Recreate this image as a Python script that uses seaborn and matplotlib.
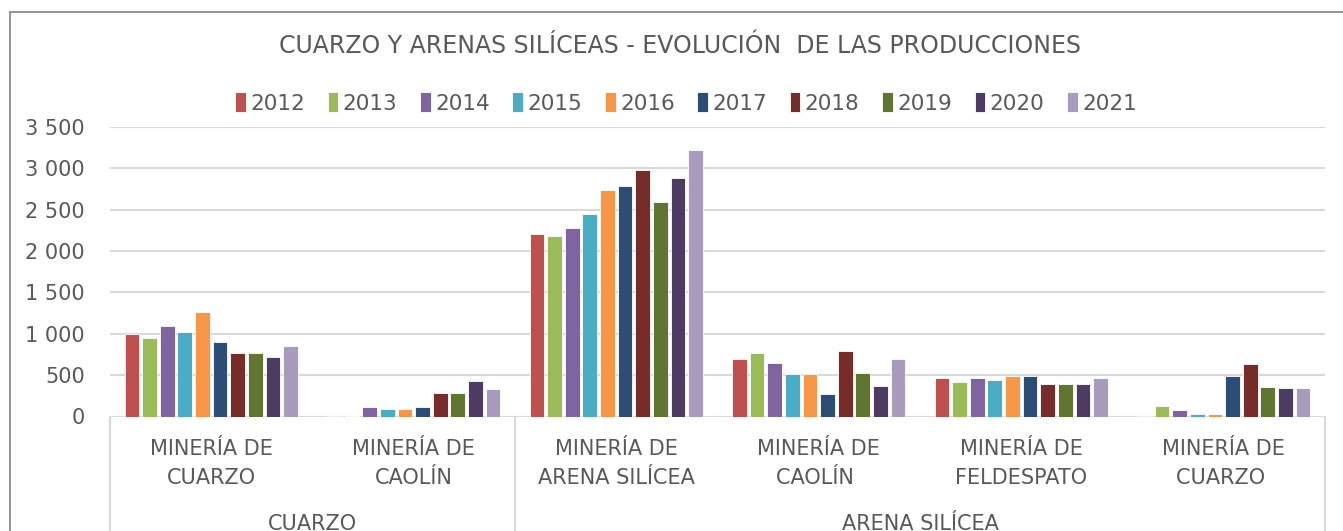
import pandas as pd
import numpy as np
import seaborn as sns
import matplotlib.pyplot as plt
from matplotlib.ticker import FuncFormatter
from matplotlib.patches import Rectangle
from matplotlib.lines import Line2D

# data
years = ['2012', '2013', '2014', '2015', '2016', '2017', '2018', '2019', '2020', '2021']
categories = ['MINERÍA DE\nCUARZO', 'MINERÍA DE\nCAOLÍN', 'MINERÍA DE\nARENA SILÍCEA',
              'MINERÍA DE\nCAOLÍN ', 'MINERÍA DE\nFELDESPATO', 'MINERÍA DE\nCUARZO ']
groups = ['CUARZO', 'ARENA SILÍCEA']
group_span = [(0, 1), (2, 5)]

cuarzo_cuarzo = [1000, 950, 1095, 1022, 1265, 905, 765, 765, 718, 858]
cuarzo_caolin = [5, 3, 112, 87, 87, 112, 281, 281, 427, 330]
arena_arena = [2212, 2188, 2284, 2450, 2740, 2788, 2982, 2595, 2885, 3220]
arena_caolin = [696, 768, 648, 509, 509, 269, 792, 528, 365, 696]
arena_feldespato = [461, 413, 461, 437, 485, 485, 389, 389, 389, 461]
arena_cuarzo = [8, 124, 76, 28, 28, 485, 629, 360, 340, 340]

colors = ['#C0504D', '#9BBB59', '#8064A2', '#4BACC6', '#F79646',
          '#2C4D75', '#772C2A', '#5F7530', '#4D3B62', '#A99BBD']

series = [cuarzo_cuarzo, cuarzo_caolin, arena_arena, arena_caolin, arena_feldespato, arena_cuarzo]
rows = []
for cat, vals in zip(categories, series):
    for yr, v in zip(years, vals):
        rows.append({'cat': cat, 'year': yr, 'value': v})
df = pd.DataFrame(rows)

sns.set_theme(style='white')
plt.rcParams['font.family'] = ['DejaVu Sans']
txt = '#595959'
grid_c = '#D9D9D9'

fig = plt.figure(figsize=(13.43, 5.31), dpi=100)
ax = fig.add_axes([110 / 1343, 1 - 416.5 / 531, (1325 - 110) / 1343, (416.5 - 127) / 531])

sns.barplot(data=df, x='cat', y='value', hue='year', hue_order=years, order=categories,
            palette=colors, saturation=1, width=0.87, gap=0.16, edgecolor='white',
            linewidth=0.6, errorbar=None, ax=ax, zorder=3)

ax.set_ylim(0, 3500)
ax.set_xlim(-0.5, len(categories) - 0.5)
ax.set_yticks(range(0, 3501, 500))
ax.yaxis.set_major_formatter(FuncFormatter(lambda v, p: f'{int(v):,}'.replace(',', ' ')))
ax.grid(axis='y', color=grid_c, lw=1.5, zorder=0)
ax.grid(axis='x', visible=False)
for s in ax.spines.values():
    s.set_visible(False)
ax.tick_params(axis='both', length=0, labelsize=15, colors=txt, pad=0)
ax.tick_params(axis='y', pad=18)
ax.tick_params(axis='x', pad=16)
ax.set_xticks(range(len(categories)))
ax.set_xticklabels(categories, linespacing=1.6)
ax.set_xlabel('')
ax.set_ylabel('')

# group labels and separators of the two-level axis
for g, (a, b) in zip(groups, group_span):
    ax.text((a + b) / 2, -0.37, g, transform=ax.get_xaxis_transform(),
            ha='center', va='center', fontsize=15, color=txt, clip_on=False)
for xv in [-0.5, 1.5, 5.5]:
    ax.add_line(Line2D([xv, xv], [0, -0.5], transform=ax.get_xaxis_transform(),
                       color=grid_c, lw=1.5, clip_on=False))

leg = ax.legend(loc='center', bbox_to_anchor=(686 / 1343, 1 - 103 / 531),
                bbox_transform=fig.transFigure, ncol=10, frameon=False,
                fontsize=15.5, handlelength=0.5, handleheight=1.0,
                handletextpad=0.2, columnspacing=1.05)
for t in leg.get_texts():
    t.set_color(txt)

fig.text(680 / 1343, 1 - 46 / 531, 'CUARZO Y ARENAS SILÍCEAS - EVOLUCIÓN  DE LAS PRODUCCIONES',
         ha='center', va='center', fontsize=17, color=txt)

fig.add_artist(Rectangle((9.5 / 1343, -0.1), 1.2, 1.1 - 12.5 / 531, transform=fig.transFigure,
                         fill=False, edgecolor='#8C8C8C', lw=1.3))

plt.savefig('out.png', dpi=100)
